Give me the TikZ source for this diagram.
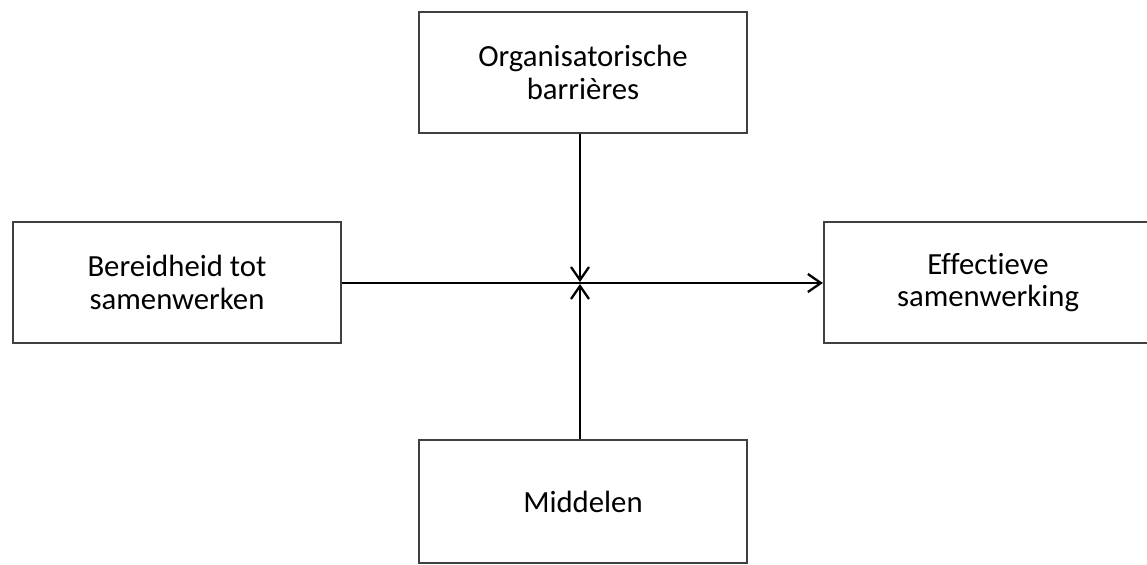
\documentclass[tikz,border=0pt]{standalone}
\usepackage{fontspec}
\setmainfont{Carlito}[Ligatures=NoCommon]
\usetikzlibrary{arrows.meta,positioning,calc}
\tikzset{
  factorbox/.style={draw=black!75, line width=1.3pt, fill=white, align=center, minimum width=6.56cm, minimum height=2.42cm, inner sep=0pt, font=\fontsize{17.5}{18.6}\selectfont},
  factorarrow/.style={-{Straight Barb[length=2.6mm, width=3.6mm, line width=1.3pt]}, line width=1.5pt, draw=black},
}

\begin{document}
\begin{tikzpicture}[x=0.02cm, y=-0.02cm]
    \useasboundingbox (0,0) rectangle (1147,565);
    \node[factorbox] (barriers) at (583,72.5) {Organisatorische\\barrières};
    \node[factorbox] (willing) at (177,282.5) {Bereidheid tot\\samenwerken};
    \node[factorbox] (effective) at (988,282.5) {Effectieve\\samenwerking};
    \node[factorbox, minimum height=2.46cm] (means) at (583,501.5) {Middelen};
    \coordinate (cross) at (580,283);
    \draw[factorarrow] (willing.east |- cross) -- (effective.west |- cross);
    \draw[factorarrow] (barriers.south -| cross) -- ($(cross)+(0,-1)$);
    \draw[factorarrow] (means.north -| cross) -- ($(cross)+(0,1)$);
\end{tikzpicture}
\end{document}
